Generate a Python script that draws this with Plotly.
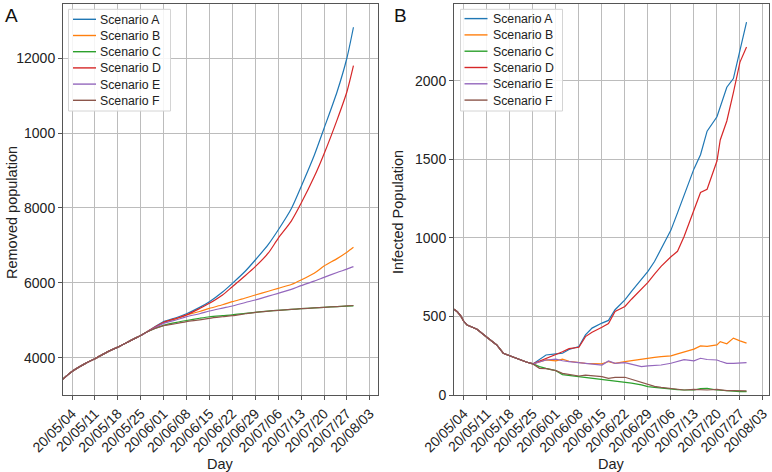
import plotly.graph_objects as go
from plotly.subplots import make_subplots

# ---------------- Panel A: removed population ----------------
hist_dates_a = ["2020-05-01", "2020-05-04", "2020-05-08", "2020-05-11", "2020-05-15",
                "2020-05-18", "2020-05-22", "2020-05-25", "2020-05-27"]
hist_vals_a = [3420, 3640, 3850, 3980, 4170, 4290, 4470, 4600, 4700]

post_dates_a = ["2020-06-01", "2020-06-05", "2020-06-08", "2020-06-12", "2020-06-15",
                "2020-06-19", "2020-06-22", "2020-06-26", "2020-06-29", "2020-07-03",
                "2020-07-06", "2020-07-10", "2020-07-13", "2020-07-17", "2020-07-20",
                "2020-07-24", "2020-07-27", "2020-07-29"]
removed_A = [4969, 5080, 5180, 5350, 5502, 5760, 5991, 6320, 6613, 7030, 7413, 7980, 8569, 9400, 10120, 11100, 12000, 12820]
removed_B = [4942, 5050, 5147, 5240, 5324, 5420, 5502, 5600, 5680, 5780, 5858, 5960, 6080, 6260, 6450, 6650, 6820, 6952]
removed_C = [4870, 4950, 5000, 5060, 5100, 5130, 5150, 5190, 5218, 5250, 5271, 5295, 5315, 5335, 5351, 5370, 5382, 5390]
removed_D = [4950, 5060, 5150, 5320, 5458, 5680, 5902, 6200, 6435, 6800, 7191, 7650, 8124, 8830, 9440, 10350, 11100, 11795]
removed_E = [4924, 5020, 5102, 5180, 5253, 5330, 5387, 5480, 5547, 5650, 5725, 5830, 5930, 6050, 6150, 6280, 6370, 6435]
removed_F = [4862, 4920, 4969, 5015, 5058, 5100, 5129, 5180, 5218, 5250, 5271, 5295, 5315, 5335, 5351, 5372, 5388, 5400]

# ---------------- Panel B: infected population ----------------
hist_dates_b = ["2020-05-01", "2020-05-02", "2020-05-03", "2020-05-04", "2020-05-05",
                "2020-05-08", "2020-05-11", "2020-05-14", "2020-05-16", "2020-05-18",
                "2020-05-21", "2020-05-23", "2020-05-25"]
hist_vals_b = [547, 530, 505, 468, 445, 419, 368, 319, 266, 249, 223, 210, 198]

post_dates_b = ["2020-05-27", "2020-05-29", "2020-06-01", "2020-06-03", "2020-06-05",
                "2020-06-08", "2020-06-10", "2020-06-12", "2020-06-15", "2020-06-17",
                "2020-06-19", "2020-06-22", "2020-06-24", "2020-06-27", "2020-06-29",
                "2020-07-01", "2020-07-03", "2020-07-06", "2020-07-08", "2020-07-10",
                "2020-07-13", "2020-07-15", "2020-07-17", "2020-07-20", "2020-07-21",
                "2020-07-23", "2020-07-25", "2020-07-27", "2020-07-29"]
infected_A = [225, 255, 262, 266, 290, 309, 383, 426, 458, 475, 543, 606, 660, 734, 787,
              850, 930, 1050, 1160, 1270, 1440, 1530, 1680, 1772, 1830, 1960, 2015, 2200, 2374]
infected_B = [210, 223, 217, 228, 215, 206, 202, 200, 198, 213, 202, 213, 220, 228, 234,
              240, 245, 249, 262, 275, 292, 313, 310, 319, 340, 326, 362, 345, 330]
infected_C = [181, 170, 155, 130, 125, 117, 110, 104, 96, 94, 90, 81, 76, 64, 53,
              48, 43, 36, 34, 32, 32, 40, 42, 32, 30, 27, 25, 22, 21]
infected_D = [215, 234, 255, 275, 295, 304, 372, 400, 432, 455, 532, 564, 610, 675, 717,
              770, 819, 880, 915, 1010, 1180, 1290, 1310, 1490, 1624, 1745, 1925, 2120, 2216]
infected_E = [210, 223, 228, 218, 213, 206, 202, 200, 191, 217, 202, 206, 195, 181, 185,
              188, 191, 202, 213, 225, 217, 234, 226, 223, 215, 202, 202, 204, 206]
infected_F = [170, 168, 155, 138, 130, 121, 126, 122, 117, 106, 112, 113, 100, 80, 64,
              55, 49, 43, 36, 32, 36, 34, 32, 36, 32, 28, 28, 28, 26]

scenario_names = ["Scenario A", "Scenario B", "Scenario C", "Scenario D", "Scenario E", "Scenario F"]
colors = ["#1f77b4", "#ff7f0e", "#2ca02c", "#d62728", "#9467bd", "#8c564b"]

left_ticks = [4000, 6000, 8000, 10000, 12000]
left_tick_text = ["4000", "6000", "8000", "1000", "12000"]
right_ticks = [0, 500, 1000, 1500, 2000]
right_tick_text = ["0", "500", "1000", "1500", "2000"]
x_tick_dates = ["2020-05-04", "2020-05-11", "2020-05-18", "2020-05-25", "2020-06-01",
                "2020-06-08", "2020-06-15", "2020-06-22", "2020-06-29", "2020-07-06",
                "2020-07-13", "2020-07-20", "2020-07-27", "2020-08-03"]
x_tick_text = ["20/05/04", "20/05/11", "20/05/18", "20/05/25", "20/06/01", "20/06/08",
               "20/06/15", "20/06/22", "20/06/29", "20/07/06", "20/07/13", "20/07/20",
               "20/07/27", "20/08/03"]

W, H = 772, 472
ML, MR, MT, MB = 63, 3, 4, 77
PW = W - ML - MR
PH = H - MT - MB


def px_x(p):
    return (p - ML) / PW


def px_y(p):
    return 1 - (p - MT) / PH


FONT = "Liberation Sans, Arial, Helvetica, sans-serif"
TXT = "#222222"

fig = make_subplots(rows=1, cols=2)

removed = [removed_A, removed_B, removed_C, removed_D, removed_E, removed_F]
infected = [infected_A, infected_B, infected_C, infected_D, infected_E, infected_F]

for name, col, vals in zip(scenario_names, colors, removed):
    fig.add_trace(go.Scatter(x=hist_dates_a + post_dates_a, y=hist_vals_a + vals,
                             mode="lines", name=name,
                             line=dict(color=col, width=1.2, shape="spline", smoothing=0.7),
                             showlegend=False), row=1, col=1)
for name, col, vals in zip(scenario_names, colors, infected):
    fig.add_trace(go.Scatter(x=hist_dates_b + post_dates_b, y=hist_vals_b + vals,
                             mode="lines", name=name, line=dict(color=col, width=1.2),
                             showlegend=False), row=1, col=2)

axis_common = dict(showgrid=True, gridcolor="#bcbcbc", gridwidth=1,
                   showline=True, linecolor="#555555", linewidth=1, mirror=True,
                   ticks="outside", ticklen=4, tickcolor="#555555",
                   tickfont=dict(family=FONT, size=14, color=TXT),
                   zeroline=False, automargin=False)

fig.update_xaxes(**axis_common, tickmode="array", tickvals=x_tick_dates, ticktext=x_tick_text,
                 tickangle=-45)
fig.update_xaxes(range=["2020-05-01 06:00", "2020-08-05 12:00"], domain=[0, px_x(378)], row=1, col=1)
fig.update_xaxes(range=["2020-05-01 00:00", "2020-08-04 20:00"], domain=[px_x(454), 1], row=1, col=2)

fig.update_yaxes(**axis_common)
fig.update_yaxes(range=[3013, 13440], tickmode="array", tickvals=left_ticks, ticktext=left_tick_text,
                 row=1, col=1)
fig.update_yaxes(range=[0, 2490], tickmode="array", tickvals=right_ticks, ticktext=right_tick_text,
                 row=1, col=2)

annotations = [
    dict(text="A", x=px_x(3), y=px_y(15), xanchor="left", yanchor="middle",
         font=dict(family=FONT, size=19, color="#111111")),
    dict(text="B", x=px_x(392), y=px_y(15), xanchor="left", yanchor="middle",
         font=dict(family=FONT, size=19, color="#111111")),
    dict(text="Day", x=px_x((63 + 378) / 2), y=px_y(464), xanchor="center", yanchor="middle",
         font=dict(family=FONT, size=14.5, color=TXT)),
    dict(text="Day", x=px_x((454 + 769) / 2), y=px_y(464), xanchor="center", yanchor="middle",
         font=dict(family=FONT, size=14.5, color=TXT)),
    dict(text="Removed population", x=px_x(12), y=px_y(213), xanchor="center", yanchor="middle",
         textangle=-90, font=dict(family=FONT, size=14.5, color=TXT)),
    dict(text="Infected Population", x=px_x(398), y=px_y(212), xanchor="center", yanchor="middle",
         textangle=-90, font=dict(family=FONT, size=14.5, color=TXT)),
]

shapes = []
# hand-drawn legends (matplotlib style: compact rows)
for box_left, line_x0, line_x1, text_x, row_y in [
    (68.5, 73, 96, 98, [19.3, 35.5, 51.7, 67.9, 84.1, 100.3]),
    (460.5, 464.5, 487.5, 490.5, [18.6, 34.9, 51.2, 67.5, 83.8, 100.1]),
]:
    shapes.append(dict(type="rect", xref="paper", yref="paper",
                       x0=px_x(box_left), x1=px_x(box_left + 102),
                       y0=px_y(9.3), y1=px_y(111),
                       fillcolor="rgba(255,255,255,0.85)", line=dict(color="#d4d4d4", width=1),
                       layer="above"))
    for name, col, yy in zip(scenario_names, colors, row_y):
        shapes.append(dict(type="line", xref="paper", yref="paper",
                           x0=px_x(line_x0), x1=px_x(line_x1), y0=px_y(yy), y1=px_y(yy),
                           line=dict(color=col, width=1.4), layer="above"))
        annotations.append(dict(text=name, x=px_x(text_x), y=px_y(yy + 0.5),
                                xanchor="left", yanchor="middle",
                                font=dict(family=FONT, size=12.3, color=TXT)))

for a in annotations:
    a.update(xref="paper", yref="paper", showarrow=False)

fig.update_layout(
    width=W, height=H,
    margin=dict(l=ML, r=MR, t=MT, b=MB, autoexpand=False),
    paper_bgcolor="white", plot_bgcolor="white",
    font=dict(family=FONT, size=14, color=TXT),
    showlegend=False,
    annotations=annotations,
    shapes=shapes,
)

fig.write_html("out.html", config={"displayModeBar": False},
               post_script="document.body.style.margin='0';document.body.style.overflow='hidden';")
